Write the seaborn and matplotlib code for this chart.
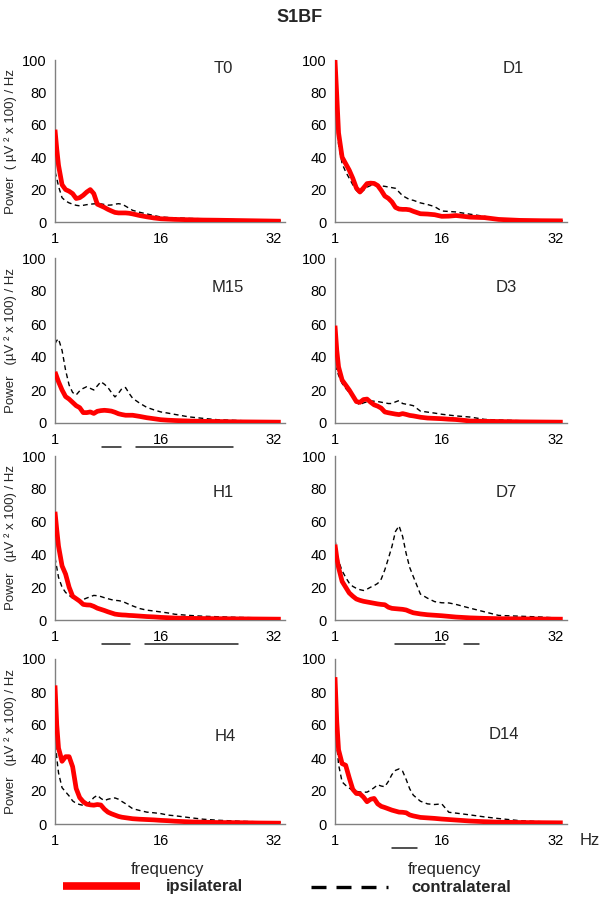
import numpy as np
import pandas as pd
import matplotlib
matplotlib.use("Agg")
import matplotlib.pyplot as plt
import matplotlib.transforms as mtransforms
from matplotlib.lines import Line2D
import seaborn as sns

# frequency grid (Hz) shared by all panels
freq = [1, 1.25, 1.5, 2, 2.5, 3, 3.5, 4, 4.5, 5, 5.5, 6, 6.5, 7, 7.5, 8, 8.5, 9, 9.5,
        10, 10.5, 11, 11.5, 12, 13, 14, 15, 16, 17, 18, 20, 22, 24, 27, 30, 33]

panels = ["T0", "D1", "M15", "D3", "H1", "D7", "H4", "D14"]

# ipsilateral spectra
t0_ipsi = [57, 45, 35, 23, 20, 19, 17.5, 14.5, 15, 16.5, 18.5, 20, 17.5, 11, 10, 9, 7.8, 6.8, 5.9,
           5.6, 5.6, 5.6, 5.4, 5, 4, 3.2, 2.5, 2, 1.8, 1.6, 1.4, 1.2, 1.1, 0.9, 0.7, 0.5]
d1_ipsi = [100, 78, 55, 40, 36, 32, 27, 21, 18.5, 21, 23.7, 24, 23.8, 22.5, 19.5, 16, 14.6, 12.4, 9,
           8, 7.8, 7.8, 7.5, 6.6, 5.1, 4.9, 4.5, 3.5, 3.6, 4, 3, 2.7, 1.6, 1, 0.8, 0.7]
m15_ipsi = [31, 28, 25, 20, 16, 14.5, 12.5, 10.5, 9.3, 6.3, 6.3, 6.7, 5.8, 7.1, 7.5, 7.7, 7.5, 7.2, 6.5,
            5.6, 5.1, 4.7, 4.7, 4.7, 4, 3.2, 2.6, 2, 1.7, 1.5, 1.2, 1, 0.9, 0.7, 0.6, 0.5]
d3_ipsi = [59, 44, 34, 26, 23, 20, 16.5, 13, 12.5, 14.2, 14.5, 12.6, 11, 10.2, 9, 6.7, 6.2, 5.8, 5.4,
           5.1, 5.7, 5.2, 4.6, 4.3, 3.5, 3, 2.8, 2.6, 2.3, 2.1, 1.2, 1, 0.9, 0.7, 0.6, 0.5]
h1_ipsi = [66, 55, 45, 33, 28, 20, 14.5, 13, 11.5, 9.5, 9.2, 9.1, 8.3, 7.2, 6.5, 5.8, 5, 4.3, 3.6,
           3.3, 3.1, 3, 2.8, 2.7, 2.4, 2.1, 1.9, 1.6, 1.4, 1.2, 1, 0.9, 0.8, 0.7, 0.6, 0.5]
d7_ipsi = [46, 38, 32, 23.5, 20, 16.5, 14.5, 12.8, 12, 11.4, 11, 10.6, 10.2, 9.8, 9.5, 9.3, 7.8, 7.1, 6.9,
           6.7, 6.5, 6.1, 5.2, 4.4, 3.7, 3.2, 2.9, 2.6, 2.2, 1.8, 1.3, 1, 0.8, 0.7, 0.6, 0.5]
h4_ipsi = [84, 60, 46, 38, 40.8, 40.8, 34.7, 21.5, 16, 13.5, 12, 11.6, 11.4, 11.8, 11.5, 9, 7.2, 6.2, 5.4,
           4.6, 4.1, 3.8, 3.5, 3.2, 2.9, 2.7, 2.5, 2.2, 2, 1.7, 1.3, 1.1, 0.9, 0.8, 0.6, 0.5]
d14_ipsi = [89, 62, 45, 36.6, 35.6, 28, 21, 18.5, 18.3, 16.3, 13.5, 15, 15.5, 12.2, 10.7, 10, 9.2, 8.4, 7.8,
            7.2, 7.1, 6.8, 5.5, 4.9, 4, 3.7, 3.4, 3, 2.7, 2.4, 1.8, 1.4, 1.1, 0.9, 0.8, 0.7]

# contralateral spectra
t0_contra = [31, 27, 22, 15, 13, 11.8, 11, 10.3, 10, 10.3, 10.7, 11, 11.2, 11.3, 11.2, 10.8, 10.4, 10.5, 11,
             11.3, 11, 9.8, 8.5, 7.2, 6, 5, 4, 3.1, 2.8, 2.6, 2.2, 2, 1.7, 1.4, 1.1, 0.8]
d1_contra = [75, 64, 48, 36, 31, 27, 23, 19.5, 17.5, 19.5, 21.5, 22.5, 23.3, 22.8, 22.3, 22, 21.6, 21.2, 20.8,
             18.5, 16.2, 15, 13.8, 13.4, 11.8, 10.8, 9.5, 6.8, 6.5, 6.2, 4.8, 3.5, 2, 1.5, 1.1, 0.8]
m15_contra = [48, 50, 51, 44, 32, 23, 18.5, 17, 19.5, 21, 22, 21, 20, 22.5, 25, 23.5, 21.5, 18.5, 15.8,
              18, 21, 21.5, 18, 15, 12, 9.5, 8, 6.7, 6, 5.2, 3.7, 2.8, 2, 1.5, 1, 0.8]
d3_contra = [35, 32, 29, 24, 21, 18.5, 16, 12.5, 11, 12.2, 12.8, 13.4, 13.2, 13, 12.6, 12.2, 11.8, 11.8, 12.8,
             13.6, 11.8, 11.4, 11, 10.5, 7.2, 6.6, 6, 5.3, 4.8, 4.3, 3.6, 2.2, 1.8, 1.4, 1, 0.8]
h1_contra = [38, 32, 26, 20, 16.8, 15, 13.4, 12.4, 11.5, 12.5, 13.4, 14.2, 15, 14.8, 14.3, 13.6, 13, 12.4, 12,
             11.8, 11.4, 10.5, 9.5, 8.6, 7, 6, 5.5, 4.9, 4.3, 3.5, 2.8, 2.3, 2, 1.6, 1.3, 1]
d7_contra = [49, 42, 36, 30, 26, 22.5, 20.5, 19.3, 18.5, 18, 18.8, 20, 21, 22.3, 25, 30.6, 37.5, 44.8, 54,
             57.4, 51, 40.5, 32, 26.5, 15.8, 13.3, 11.2, 10.5, 10.4, 9.5, 7.2, 5, 2.8, 2.3, 1.8, 1]
h4_contra = [53, 40, 31, 22, 19.5, 17, 14, 12.5, 11.8, 11.3, 12.2, 13.6, 16, 17.4, 15.5, 14.2, 15, 15.5, 15.8,
             15, 13.6, 12.3, 10.8, 9.3, 8.2, 7.2, 6.8, 6.3, 5.4, 5, 3.9, 2.9, 2.3, 1.7, 1.3, 1]
d14_contra = [60, 48, 36, 25.5, 23.4, 21.8, 20.3, 19.8, 19.4, 19.3, 19.3, 20.5, 22, 23.8, 23, 22.6, 25.8, 30, 32.5,
              33.4, 32, 27, 21.3, 17.5, 13.8, 12.2, 11.8, 12.2, 7.1, 6.6, 5.5, 4.3, 3.3, 2, 1.4, 1]

ipsi = [t0_ipsi, d1_ipsi, m15_ipsi, d3_ipsi, h1_ipsi, d7_ipsi, h4_ipsi, d14_ipsi]
contra = [t0_contra, d1_contra, m15_contra, d3_contra, h1_contra, d7_contra, h4_contra, d14_contra]

# significance bars (Hz ranges) under some panels
sig_bars = {"M15": [(7.6, 10.3), (12.5, 26.2)],
            "H1": [(7.7, 11.7), (13.7, 27.0)],
            "D7": [(9.5, 16.4), (19.1, 21.2)],
            "D14": [(9.0, 12.5)]}

# label position inside each panel (axes fraction)
label_pos = {"T0": (0.73, 0.95), "D1": (0.77, 0.95), "M15": (0.75, 0.82), "D3": (0.74, 0.82),
             "H1": (0.73, 0.78), "D7": (0.74, 0.78), "H4": (0.74, 0.53), "D14": (0.73, 0.54)}

sns.set_style("white")
plt.rcParams["font.family"] = ["Liberation Sans", "DejaVu Sans"]

fig = plt.figure(figsize=(6, 9), dpi=100)

W, H = 600, 900
col_left = [55, 335]
col_width = [230, 232]
row_top = [60, 258, 456, 659]
row_bot = [222, 423, 620, 824]

axes = []
for i, name in enumerate(panels):
    r, c = divmod(i, 2)
    rect = [col_left[c] / W, 1 - row_bot[r] / H, col_width[c] / W, (row_bot[r] - row_top[r]) / H]
    ax = fig.add_axes(rect)
    axes.append(ax)

    df = pd.DataFrame({"freq": freq, "ipsi": ipsi[i], "contra": contra[i]})
    sns.lineplot(data=df, x="freq", y="contra", ax=ax, color="black", linewidth=1.0,
                 linestyle=(0, (3.5, 2.5)), zorder=2)
    sns.lineplot(data=df, x="freq", y="ipsi", ax=ax, color="#ff0000", linewidth=3.4,
                 zorder=3, solid_capstyle="butt")

    ax.set_xlim(1, 33.6)
    ax.set_ylim(0, 100)
    ax.set_xticks([1, 16, 32])
    ax.set_xticks(list(np.linspace(1, 32, 9)), minor=True)
    ax.set_yticks([0, 20, 40, 60, 80, 100])
    ax.tick_params(axis="both", which="both", direction="out", colors="#808080",
                   labelcolor="black", labelsize=10.5)
    ax.tick_params(axis="x", which="major", length=4, pad=3)
    ax.tick_params(axis="x", which="minor", length=4)
    ax.tick_params(axis="y", length=4, pad=2)
    for s in ["top", "right"]:
        ax.spines[s].set_visible(False)
    for s in ["left", "bottom"]:
        ax.spines[s].set_color("#808080")
        ax.spines[s].set_linewidth(1.0)

    ax.set_xlabel("")
    if c == 0:
        lab = "Power  ( \u00b5V \u00b2 x 100) / Hz" if name == "T0" else "Power   (\u00b5V \u00b2 x 100) / Hz"
        ax.set_ylabel(lab, fontsize=9.5)
        ax.yaxis.set_label_coords(-0.165, 0.5)
    else:
        ax.set_ylabel("")

    lx, ly = label_pos[name]
    ax.text(lx, ly, name, transform=ax.transAxes, ha="center", va="center", fontsize=12)

    if name in sig_bars:
        trans = mtransforms.blended_transform_factory(ax.transData, ax.transAxes)
        for x0, x1 in sig_bars[name]:
            ax.plot([x0, x1], [-0.148, -0.148], color="#202020", linewidth=1.1,
                    transform=trans, clip_on=False)

# bottom row labels
axes[6].set_xlabel("frequency", fontsize=12)
axes[6].xaxis.set_label_coords(0.49, -0.23)
axes[7].set_xlabel("frequency", fontsize=12)
axes[7].xaxis.set_label_coords(0.47, -0.23)
axes[7].text(1.1, -0.1, "Hz", transform=axes[7].transAxes, ha="center", va="center", fontsize=12)

fig.text(0.5, 1 - 17 / H, "S1BF", ha="center", va="center", fontsize=13, fontweight="bold")

# legend at the bottom
h_ipsi = Line2D([], [], color="#ff0000", linewidth=5.5, solid_capstyle="butt")
h_contra = Line2D([], [], color="black", linewidth=2.4, linestyle=(0, (4.5, 3)))
fig.legend([h_ipsi], ["ipsilateral"], loc="center left", bbox_to_anchor=(48 / W, 1 - 887 / H),
           frameon=False, handlelength=4.6, handletextpad=1.6,
           prop={"size": 12, "weight": "bold"})
fig.legend([h_contra], ["contralateral"], loc="center left", bbox_to_anchor=(296 / W, 1 - 888 / H),
           frameon=False, handlelength=4.6, handletextpad=1.4,
           prop={"size": 12, "weight": "bold"})

fig.savefig("out.png", dpi=100)
